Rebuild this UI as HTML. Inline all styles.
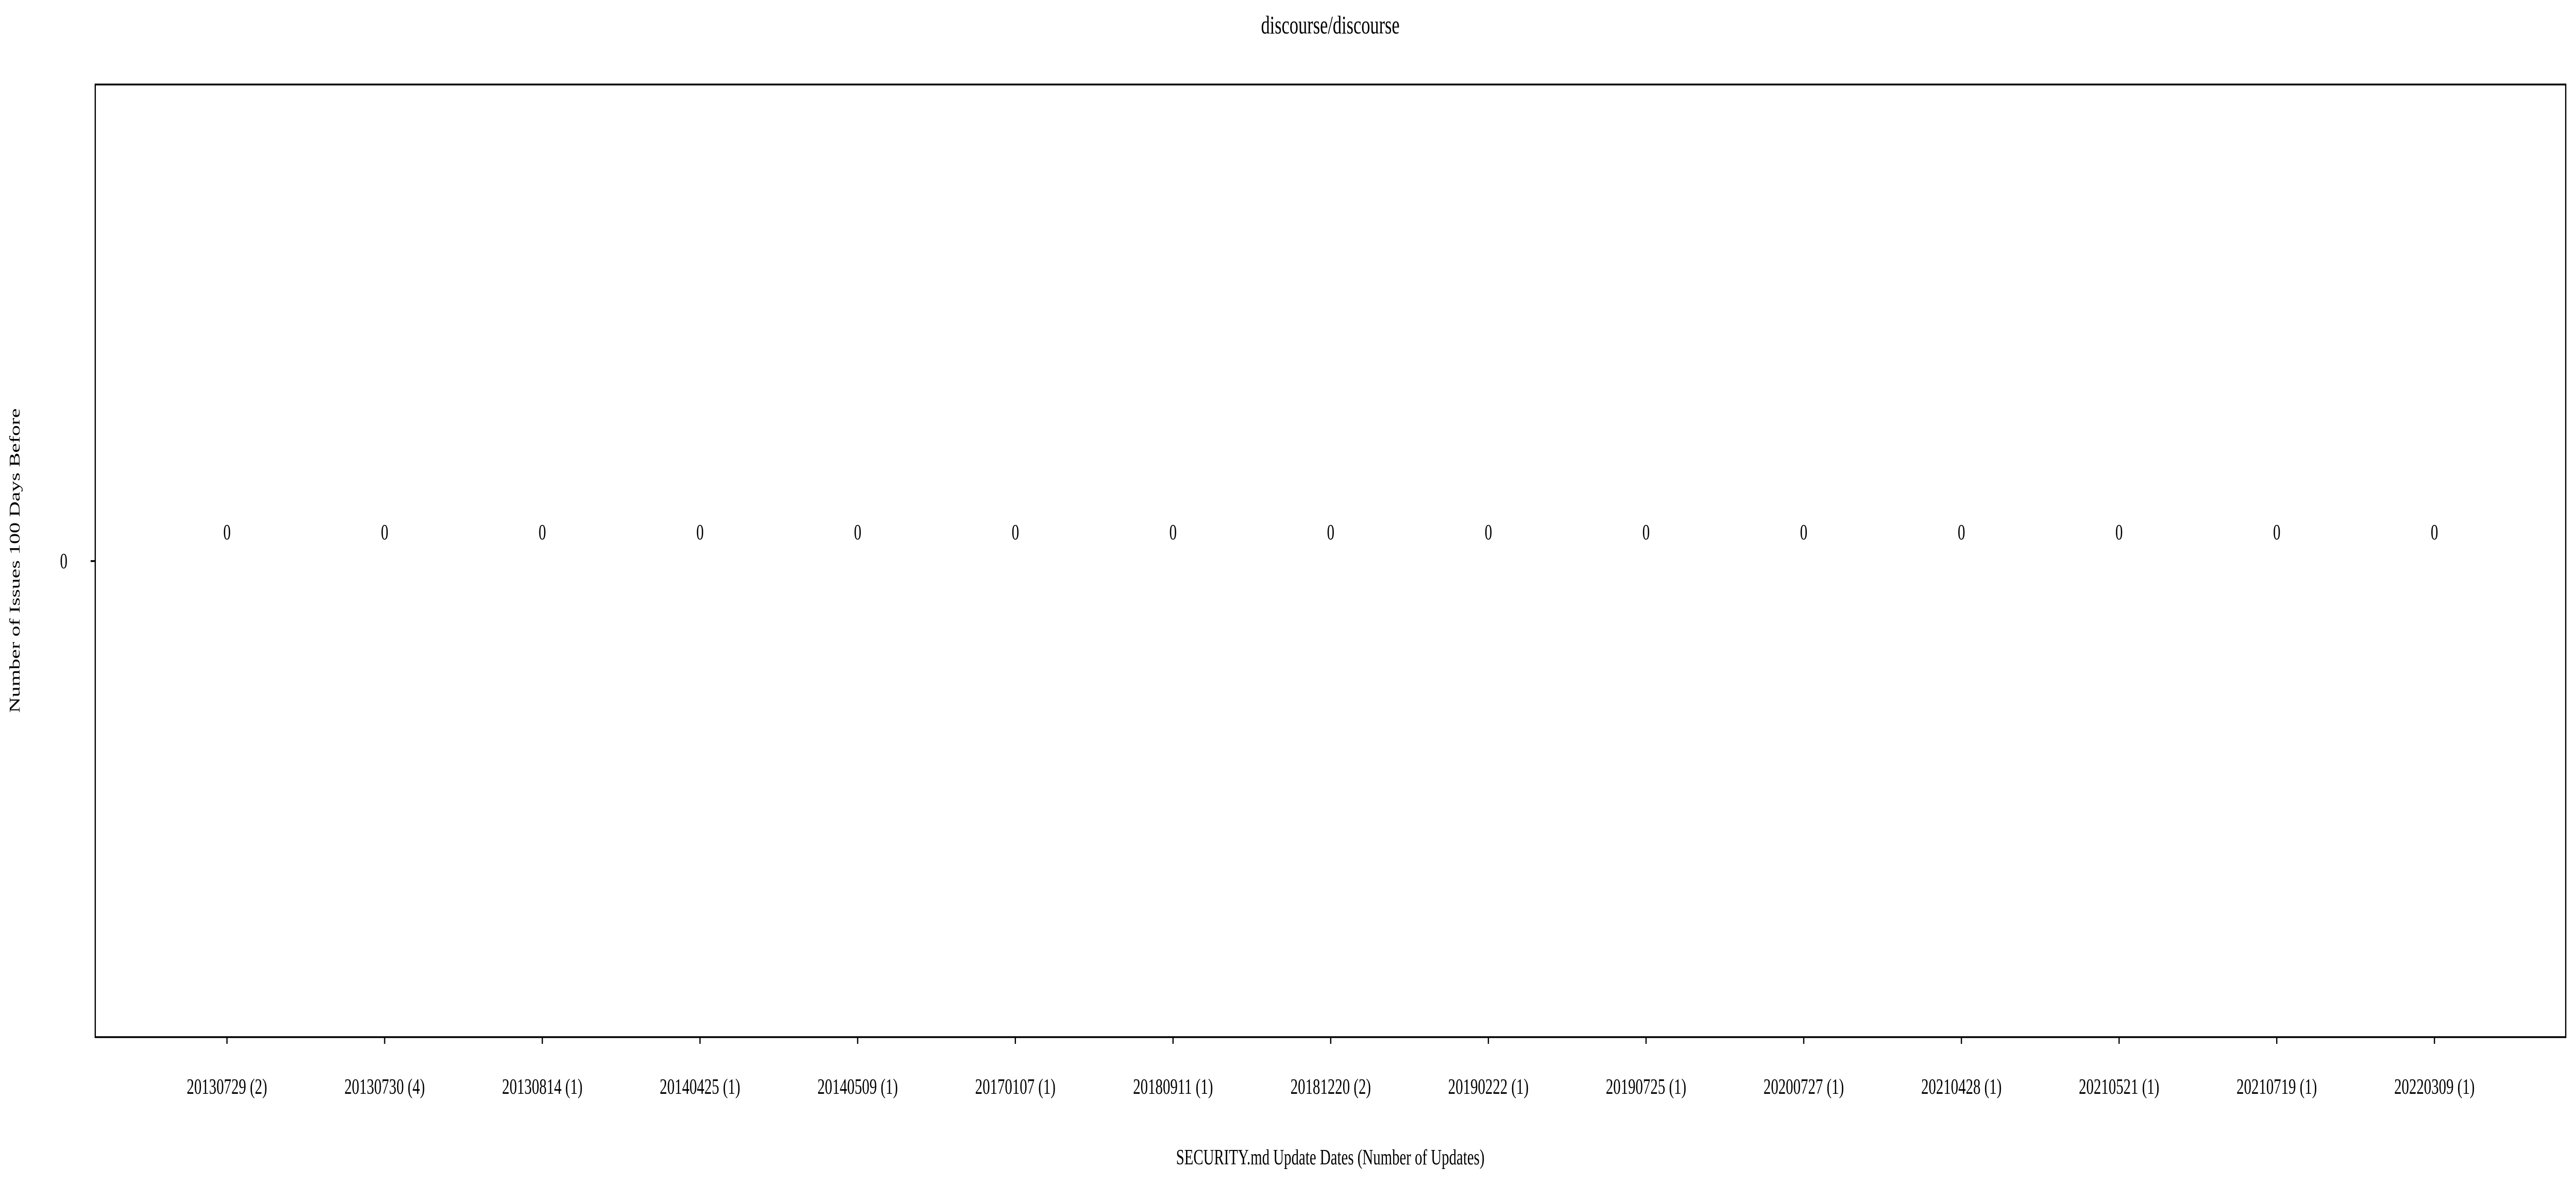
<!DOCTYPE html>
<html><head><meta charset="utf-8"><style>
html,body{margin:0;padding:0;background:#fff;width:100%;height:100%;overflow:hidden;}
svg{display:block;width:100vw;height:100vh;font-family:"Liberation Serif",serif;}
</style></head><body>
<svg id="chart" viewBox="0 0 7275 2300" preserveAspectRatio="none" xmlns="http://www.w3.org/2000/svg">
<rect x="0" y="0" width="7275" height="2300" fill="#fff"/>
<text x="3757" y="65" font-size="50" text-anchor="middle">discourse/discourse</text>
<text x="3757" y="2260" font-size="42" text-anchor="middle">SECURITY.md Update Dates (Number of Updates)</text>
<text transform="translate(55,1088) rotate(-90)" font-size="42" text-anchor="middle">Number of Issues 100 Days Before</text>
<g id="marks"></g>
<rect x="269" y="164" width="6977" height="1849" fill="none" stroke="#000" stroke-width="3.5"/>
</svg>
<script>
const categories = ["20130729 (2)","20130730 (4)","20130814 (1)","20140425 (1)","20140509 (1)","20170107 (1)","20180911 (1)","20181220 (2)","20190222 (1)","20190725 (1)","20200727 (1)","20210428 (1)","20210521 (1)","20210719 (1)","20220309 (1)"];
const values = [0,0,0,0,0,0,0,0,0,0,0,0,0,0,0];
const yTicks = [0];

const NS = "http://www.w3.org/2000/svg";
const g = document.getElementById("marks");
const x0 = 641, step = 445.3;
function xScale(i){ return x0 + step * i; }
function yScale(v){ return 1089 - v * 1000; }

function mk(tag, attrs){
  const e = document.createElementNS(NS, tag);
  for (const k in attrs) e.setAttribute(k, attrs[k]);
  return e;
}

yTicks.forEach(t => {
  const y = yScale(t);
  const tk = mk("line", {x1:256, x2:269, y1:y, y2:y, stroke:"#000", "stroke-width":3.5});
  
  
  g.appendChild(tk);
  const lb = mk("text", {x:180, y:y+14, "font-size":42, "text-anchor":"middle"});
  
  
  lb.textContent = String(t);
  g.appendChild(lb);
});

categories.forEach((c, i) => {
  const x = xScale(i);
  const tk = mk("line", {x1:x, x2:x, y1:2013, y2:2026, stroke:"#000", "stroke-width":3.5});
  
  
  g.appendChild(tk);
  const lb = mk("text", {x:x, y:2123, "font-size":42, "text-anchor":"middle"});
  
  
  lb.textContent = c;
  g.appendChild(lb);
  const v = values[i];
  const vl = mk("text", {x:x, y:yScale(v) - 42, "font-size":42, "text-anchor":"middle"});
  
  
  vl.textContent = String(v);
  g.appendChild(vl);
});
</script>
</body></html>
